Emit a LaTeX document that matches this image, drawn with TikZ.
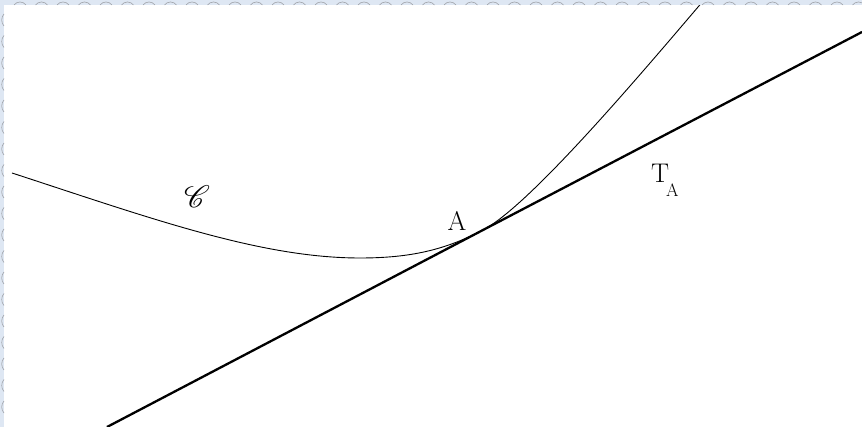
\documentclass[tikz,border=0pt]{standalone}
\usepackage{fontspec}
\usepackage{mathrsfs}
\usepackage{graphicx}
\usepackage{tikz}
\usetikzlibrary{positioning}
\definecolor{bandblue}{RGB}{222,231,243}
\definecolor{bandgrey}{RGB}{160,163,170}

\begin{document}
\begin{tikzpicture}[
  x=1pt, y=-1pt,
  curvestroke/.style={line width=0.9pt, black},
  tangent/.style={line width=2.3pt, black},
  lbl/.style={inner sep=0pt, font=\fontsize{27}{27}\selectfont},
  scallop/.style={line width=0.6pt, bandgrey}
]
\useasboundingbox (0,0) rectangle (862,427);
\fill[white] (0,0) rectangle (862,427);
\coordinate (cstart) at (12,173);
\coordinate (cbot) at (360,258);
\coordinate (A) at (483,230);
\coordinate (cend) at (704,0);
\coordinate (tlow) at (107,427);
\coordinate (thigh) at (862,32);
\draw[tangent] (tlow) -- (A) -- (thigh);
\draw[curvestroke] (cstart) .. controls (150,218) and (260,258) .. (cbot)
  .. controls (410,258) and (445,250) .. (A)
  .. controls (530,205.4) and (640,75) .. (cend);
\node[lbl] (labA) at (457,221) {A};
\node[lbl, anchor=base west] (labT) at (651,183)
  {T\kern-0.12em\raisebox{-0.5em}{\fontsize{18}{18}\selectfont A}};
\node[inner sep=0pt] (labC) at (197,197) {\scalebox{3.1}{$\mathscr{C}$}};
\fill[bandblue] (0,0) rectangle (862,5);
\fill[bandblue] (0,0) rectangle (4,427);
\foreach \x in {20,41.5,...,862}
  \draw[scallop] (\x-6,5) .. controls (\x-3,1) and (\x+3,1) .. (\x+6,5);
\foreach \y in {20,41.5,...,427}
  \draw[scallop] (4,\y-6) .. controls (1,\y-3) and (1,\y+3) .. (4,\y+6);
\end{tikzpicture}
\end{document}
